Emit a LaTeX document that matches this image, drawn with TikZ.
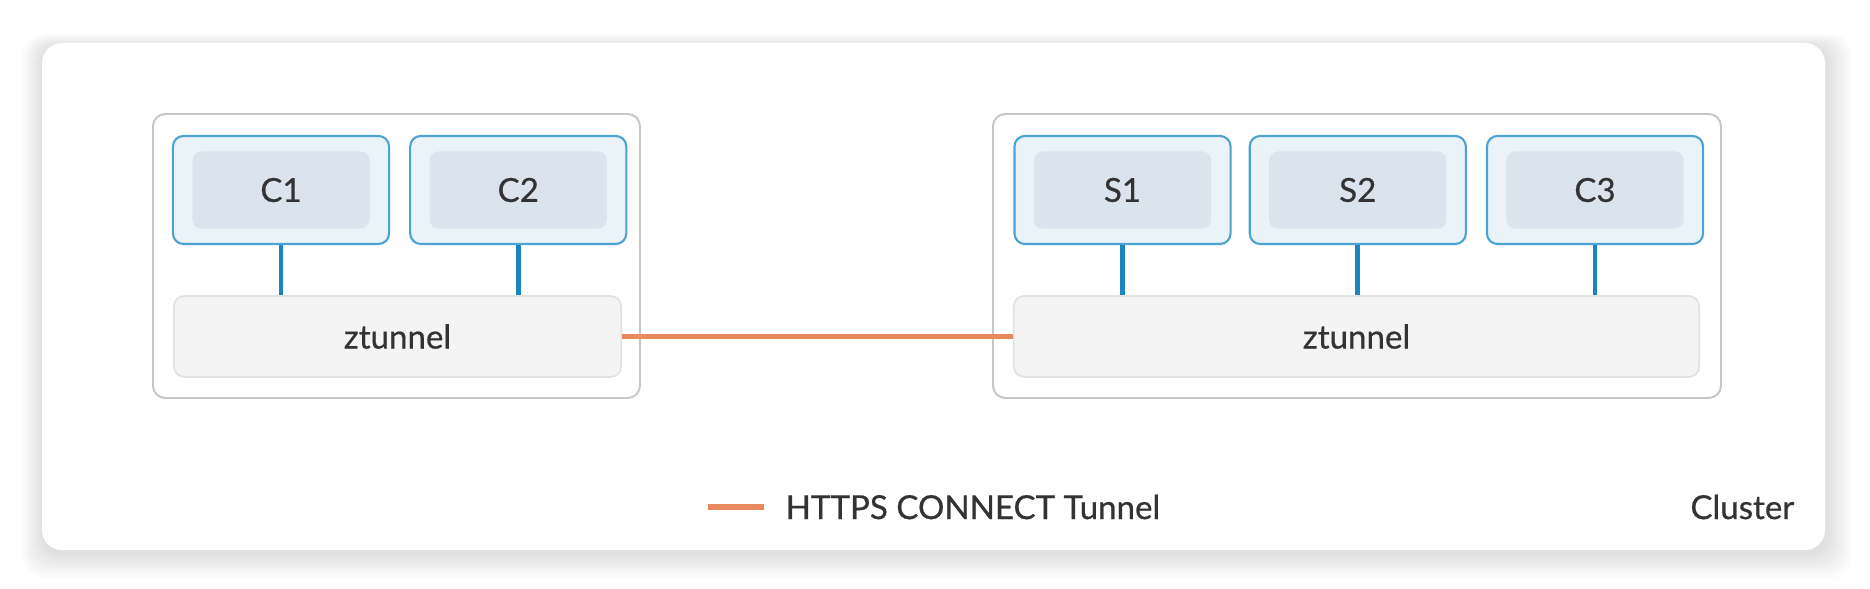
\documentclass[tikz,border=0pt]{standalone}
\usepackage{fontspec}
\setmainfont{Lato}[FakeBold=0.6]
\usetikzlibrary{positioning}
\definecolor{TextClr}{HTML}{333333}
\definecolor{HostClr}{HTML}{C6C6C6}
\definecolor{PodLine}{HTML}{4CA3D1}
\definecolor{PodFill}{HTML}{EAF3F8}
\definecolor{InnerFill}{HTML}{DBE4EC}
\definecolor{LinkClr}{HTML}{1A85BF}
\definecolor{ZtunFill}{HTML}{F4F4F4}
\definecolor{ZtunLine}{HTML}{E2E2E2}
\definecolor{TunnelClr}{HTML}{E8895F}

\begin{document}
\begin{tikzpicture}[x=0.01cm,y=-0.01cm,
  every node/.style={font=\fontsize{9.4}{11}\selectfont,text=TextClr},
  host/.style={draw=HostClr,line width=.55pt,rounded corners=3.5pt},
  pod/.style={draw=PodLine,fill=PodFill,line width=.6pt,rounded corners=3pt,
    minimum width=2.16cm,minimum height=1.08cm},
  podin/.style={fill=InnerFill,rounded corners=2.5pt,minimum width=1.77cm,minimum height=.77cm},
  ztun/.style={draw=ZtunLine,fill=ZtunFill,line width=.5pt,rounded corners=3pt,minimum height=.81cm},
  link/.style={draw=LinkClr,line width=1.35pt},
  tunnel/.style={draw=TunnelClr,line width=1.7pt}]
\useasboundingbox (0,0) rectangle (1870,589);

% cluster with a soft shadow
\foreach \i in {1,...,10}
  \fill[black,opacity=.01,rounded corners=6pt] (42-2*\i,46-1.2*\i) rectangle (1827+2.5*\i,553+2.5*\i);
\fill[white,rounded corners=5.7pt] (42,43) rectangle (1825,550);

% hosts
\draw[host] (153,114) rectangle (640,398);
\draw[host] (993,114) rectangle (1721,398);

% pods
\node[pod] (c1box) at (281,190) {};
\node[pod,right=0.19cm of c1box] (c2box) {};
\node[pod] (s1box) at (1122.5,190) {};
\node[pod,right=0.17cm of s1box] (s2box) {};
\node[pod,right=0.19cm of s2box] (c3box) {};

\node[podin] (c1) at (c1box) {C1};
\node[podin] (c2) at (c2box) {C2};
\node[podin] (s1) at (s1box) {S1};
\node[podin] (s2) at (s2box) {S2};
\node[podin] (c3) at (c3box) {C3};

% ztunnels
\node[ztun,minimum width=4.47cm] (zl) at (397.5,336.5) {ztunnel};
\node[ztun,minimum width=6.85cm] (zr) at (1356.5,336.5) {ztunnel};

\foreach \p/\z in {c1box/zl,c2box/zl,s1box/zr,s2box/zr,c3box/zr}
  \draw[link] (\p.south) -- (\p.south |- \z.north);

\draw[tunnel] (zl.east) -- (zr.west);

% legend
\coordinate (lga) at (708,507);
\coordinate (lgb) at (764,507);
\draw[tunnel] (lga) -- (lgb);
\node[anchor=west,inner sep=0pt] (lgtxt) at (785,507) {HTTPS CONNECT Tunnel};
\node[anchor=east,inner sep=0pt] (cluster) at (1795,507) {Cluster};
\end{tikzpicture}
\end{document}
